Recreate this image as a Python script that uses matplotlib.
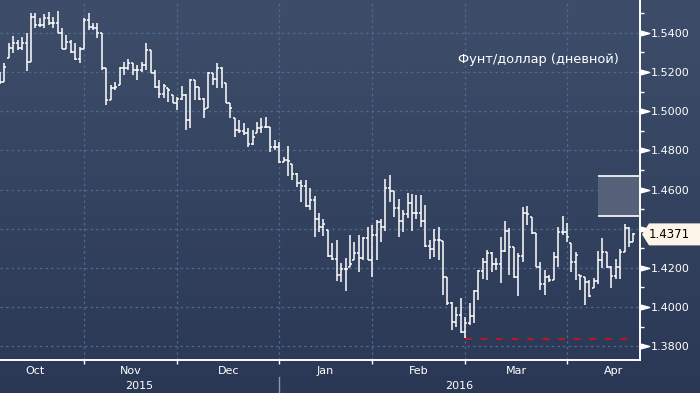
import numpy as np
import pandas as pd
import matplotlib
matplotlib.use("Agg")
import matplotlib.pyplot as plt
from matplotlib.collections import LineCollection
from matplotlib.patches import Polygon, Rectangle
from matplotlib.path import Path
import matplotlib.transforms as mtransforms

# ---------------- data ----------------
first_date = "2015-10-06"
title = "Фунт/доллар (дневной)"
month_names = ["Oct", "Nov", "Dec", "Jan", "Feb", "Mar", "Apr"]
year_names = ["2015", "2016"]

open_ = [1.5170,1.5149,1.5271,1.5322,1.5348,1.5322,1.5348,1.5251,1.5480,1.5439,
1.5439,1.5475,1.5450,1.5450,1.5399,1.5317,1.5353,1.5302,1.5266,1.5317,
1.5465,1.5429,1.5424,1.5399,1.5220,1.5057,1.5118,1.5134,1.5220,1.5220,
1.5246,1.5210,1.5210,1.5236,1.5312,1.5195,1.5123,1.5088,1.5118,1.5082,
1.5042,1.5062,1.5082,1.4955,1.5159,1.5123,1.5062,1.5016,1.5195,1.5164,
1.5220,1.5144,1.5042,1.4965,1.4904,1.4899,1.4889,1.4833,1.4889,1.4914,
1.4919,1.4919,1.4817,1.4817,1.4741,1.4751,1.4731,1.4680,1.4634,1.4618,
1.4516,1.4547,1.4450,1.4409,1.4394,1.4261,1.4246,1.4165,1.4195,1.4205,
1.4241,1.4277,1.4251,1.4353,1.4241,1.4369,1.4435,1.4409,1.4608,1.4593,
1.4506,1.4440,1.4476,1.4532,1.4481,1.4481,1.4440,1.4312,1.4297,1.4343,
1.4338,1.4154,1.4022,1.3925,1.3961,1.3874,1.3920,1.3956,1.4083,1.4185,
1.4231,1.4277,1.4221,1.4221,1.4287,1.4389,1.4307,1.4154,1.4261,1.4481,
1.4460,1.4379,1.4205,1.4119,1.4154,1.4139,1.4256,1.4384,1.4384,1.4328,
1.4231,1.4164,1.4154,1.4129,1.4098,1.4134,1.4241,1.4282,1.4205,1.4159,
1.4205,1.4282,1.4404,1.4333]

high = [1.5200,1.5246,1.5348,1.5383,1.5363,1.5378,1.5399,1.5501,1.5501,1.5475,
1.5496,1.5506,1.5480,1.5511,1.5424,1.5388,1.5363,1.5348,1.5327,1.5475,
1.5501,1.5450,1.5450,1.5399,1.5220,1.5134,1.5149,1.5225,1.5251,1.5266,
1.5246,1.5236,1.5251,1.5348,1.5312,1.5210,1.5159,1.5139,1.5118,1.5082,
1.5072,1.5128,1.5088,1.5164,1.5159,1.5123,1.5067,1.5200,1.5195,1.5246,
1.5225,1.5144,1.5042,1.4965,1.4955,1.4940,1.4914,1.4904,1.4945,1.4965,
1.4970,1.4919,1.4853,1.4843,1.4766,1.4822,1.4731,1.4685,1.4649,1.4649,
1.4608,1.4567,1.4481,1.4450,1.4394,1.4328,1.4343,1.4226,1.4251,1.4369,
1.4333,1.4369,1.4358,1.4409,1.4420,1.4445,1.4450,1.4654,1.4675,1.4593,
1.4552,1.4496,1.4583,1.4578,1.4572,1.4572,1.4521,1.4343,1.4399,1.4409,
1.4338,1.4154,1.4027,1.4001,1.4047,1.3950,1.4022,1.4088,1.4190,1.4251,
1.4292,1.4282,1.4251,1.4358,1.4440,1.4404,1.4307,1.4277,1.4511,1.4516,
1.4460,1.4379,1.4231,1.4190,1.4164,1.4282,1.4409,1.4465,1.4430,1.4328,
1.4282,1.4164,1.4154,1.4139,1.4149,1.4287,1.4353,1.4282,1.4211,1.4246,
1.4297,1.4425,1.4409,1.4379]

low = [1.5139,1.5149,1.5271,1.5297,1.5312,1.5312,1.5205,1.5251,1.5424,1.5429,
1.5424,1.5439,1.5424,1.5399,1.5317,1.5317,1.5297,1.5261,1.5246,1.5317,
1.5414,1.5414,1.5373,1.5210,1.5031,1.5057,1.5108,1.5134,1.5185,1.5210,
1.5185,1.5159,1.5200,1.5210,1.5195,1.5118,1.5067,1.5067,1.5047,1.5042,
1.5006,1.5057,1.4904,1.4914,1.5057,1.5057,1.4965,1.5016,1.5134,1.5118,
1.5118,1.5042,1.4965,1.4868,1.4889,1.4879,1.4817,1.4827,1.4889,1.4889,
1.4914,1.4792,1.4802,1.4736,1.4741,1.4669,1.4649,1.4613,1.4537,1.4511,
1.4496,1.4358,1.4384,1.4363,1.4256,1.4241,1.4134,1.4129,1.4083,1.4205,
1.4241,1.4180,1.4241,1.4241,1.4154,1.4241,1.4333,1.4389,1.4537,1.4460,
1.4358,1.4384,1.4455,1.4389,1.4450,1.4409,1.4307,1.4246,1.4256,1.4241,
1.4063,1.4012,1.3884,1.3899,1.3869,1.3843,1.3910,1.3920,1.4037,1.4144,
1.4139,1.4180,1.4190,1.4124,1.4282,1.4164,1.4149,1.4057,1.4231,1.4420,
1.4374,1.4205,1.4088,1.4063,1.4129,1.4139,1.4205,1.4369,1.4333,1.4180,
1.4139,1.4088,1.4012,1.4052,1.4098,1.4119,1.4200,1.4200,1.4098,1.4144,
1.4144,1.4282,1.4307,1.4333]

close = [1.5149,1.5225,1.5322,1.5348,1.5322,1.5348,1.5251,1.5480,1.5439,1.5439,
1.5475,1.5450,1.5450,1.5399,1.5317,1.5353,1.5302,1.5266,1.5317,1.5465,
1.5429,1.5424,1.5399,1.5220,1.5057,1.5118,1.5123,1.5220,1.5220,1.5246,
1.5210,1.5210,1.5236,1.5312,1.5195,1.5123,1.5088,1.5128,1.5108,1.5042,
1.5062,1.5082,1.4955,1.5159,1.5123,1.5062,1.5011,1.5195,1.5164,1.5220,
1.5144,1.5042,1.5016,1.4904,1.4899,1.4889,1.4833,1.4868,1.4914,1.4919,
1.4919,1.4817,1.4817,1.4741,1.4751,1.4746,1.4680,1.4634,1.4618,1.4516,
1.4547,1.4450,1.4409,1.4425,1.4261,1.4246,1.4165,1.4195,1.4195,1.4221,
1.4277,1.4251,1.4353,1.4241,1.4369,1.4435,1.4409,1.4608,1.4593,1.4506,
1.4440,1.4476,1.4532,1.4481,1.4481,1.4440,1.4312,1.4297,1.4343,1.4343,
1.4154,1.4022,1.3925,1.3961,1.3874,1.3920,1.3956,1.4083,1.4185,1.4231,
1.4277,1.4221,1.4221,1.4287,1.4389,1.4307,1.4154,1.4261,1.4481,1.4476,
1.4379,1.4205,1.4119,1.4154,1.4139,1.4256,1.4384,1.4384,1.4358,1.4231,
1.4267,1.4159,1.4129,1.4057,1.4134,1.4241,1.4282,1.4205,1.4159,1.4205,
1.4282,1.4404,1.4333,1.4371]

ytick_vals = [1.38, 1.40, 1.42, 1.44, 1.46, 1.48, 1.50, 1.52, 1.54]
yminor_vals = [1.39, 1.41, 1.43, 1.45, 1.47, 1.49, 1.51, 1.53, 1.55]
y_limits = (1.3730, 1.5567)
last_price = 1.4371
support_level = 1.3838
support_from = "2016-03-01"
band_low, band_high = 1.4465, 1.4669
band_from = "2016-04-12"

# ---------------- styling ----------------
W, H, DPI = 700, 393, 100
AX_W, AX_H = 640, 360
bg_top = np.array([62, 78, 106]) / 255
bg_bot = np.array([42, 56, 85]) / 255
grid_col = "#4b6d8d"
white = "#ffffff"

fig = plt.figure(figsize=(W / DPI, H / DPI), dpi=DPI)

bg = fig.add_axes([0, 0, 1, 1], zorder=0)
t = np.linspace(0, 1, 400)[:, None, None]
img = bg_top[None, None, :] * (1 - t) + bg_bot[None, None, :] * t
bg.imshow(img, aspect="auto", extent=(0, 1, 0, 1), interpolation="bilinear")
bg.set_axis_off()

ax = fig.add_axes([0, (H - AX_H) / H, AX_W / W, AX_H / H], zorder=1)
ax.patch.set_alpha(0)

n = len(close)
dates = pd.bdate_range(first_date, periods=n)
pos = np.arange(n)
all_days = pd.bdate_range("2015-10-01", "2016-05-31")
offset = all_days.get_loc(pd.Timestamp(first_date))
month_first = all_days.to_series().groupby([all_days.year, all_days.month]).head(1)
mstarts = np.array([all_days.get_loc(d) - offset for d in month_first.index])
x_max = AX_W / 4.43

# OHLC bars
half = 0.45
segs = []
for i in range(n):
    segs.append([(pos[i], low[i]), (pos[i], high[i])])
    segs.append([(pos[i] - half, open_[i]), (pos[i], open_[i])])
    segs.append([(pos[i], close[i]), (pos[i] + half, close[i])])
ax.add_collection(LineCollection(segs, colors=white, linewidths=1.1,
                                 capstyle="butt", zorder=4))

ax.set_xlim(0, x_max)
ax.set_ylim(*y_limits)

# support line
sp = dates.get_loc(pd.Timestamp(support_from))
ax.plot([pos[sp], pos[-1]], [support_level, support_level], color="#b3192c",
        lw=1.6, dashes=(3, 4), zorder=3)

# grey band
bp = dates.get_loc(pd.Timestamp(band_from))
ax.add_patch(Rectangle((pos[bp], band_low), x_max - pos[bp], band_high - band_low,
                       facecolor="#566279", edgecolor="none", zorder=2))
ax.hlines([band_low, band_high], pos[bp], x_max, color=white, lw=1.2, zorder=3)

# axes / grid
for s in ["top", "left"]:
    ax.spines[s].set_visible(False)
for s in ["right", "bottom"]:
    ax.spines[s].set_color(white)
    ax.spines[s].set_linewidth(1.4)

vis_starts = [m for m in mstarts if 0 < m < x_max]
ax.set_xticks(vis_starts)
ax.set_xticklabels([])
mids = [(mstarts[k] + mstarts[k + 1]) / 2 for k in range(len(month_names))]
ax.set_xticks(mids, minor=True)
ax.set_xticklabels(month_names, minor=True)
ax.tick_params(axis="x", which="major", length=3, width=1, color=white)
ax.tick_params(axis="x", which="minor", length=0, pad=4, labelsize=8,
               labelcolor=white)

ax.yaxis.tick_right()
ax.set_yticks(ytick_vals)
ax.set_yticklabels([f"{v:.4f}" for v in ytick_vals])
ax.set_yticks(yminor_vals, minor=True)
ax.tick_params(axis="y", which="major", length=0, pad=7.5, labelsize=8,
               labelcolor=white)
ax.tick_params(axis="y", which="minor", length=3, width=1, color=white)

ax.grid(True, which="major", color=grid_col, lw=0.9, linestyle=(0, (2, 2.5)))
ax.set_axisbelow(True)

# triangles at major y ticks
trans_y = mtransforms.blended_transform_factory(ax.transAxes, ax.transData)
tri = Path([(-1, -0.55), (1, 0), (-1, 0.55), (-1, -0.55)],
           [Path.MOVETO, Path.LINETO, Path.LINETO, Path.CLOSEPOLY])
ax.plot([1 + 5 / AX_W] * len(ytick_vals), ytick_vals, transform=trans_y,
        marker=tri, ms=6, color=white, ls="none", clip_on=False, zorder=5)

# title
ax.text(619 / AX_W, 1 - 60 / AX_H, title, transform=ax.transAxes, ha="right",
        va="center", color=white, fontsize=9.4)

# years
trans_x = mtransforms.blended_transform_factory(ax.transData, ax.transAxes)
year_split = mstarts[3]
ax.text((0 + year_split) / 2, -26 / AX_H, year_names[0], transform=trans_x,
        ha="center", va="center", color=white, fontsize=8)
ax.text((year_split + x_max) / 2, -26 / AX_H, year_names[1], transform=trans_x,
        ha="center", va="center", color=white, fontsize=8)
ax.plot([year_split, year_split], [-17 / AX_H, -34 / AX_H], transform=trans_x,
        color="#8d97a8", lw=1, clip_on=False)

# last price label
dy = 11 * (y_limits[1] - y_limits[0]) / AX_H
px = 1 / AX_W
poly = [(1 + 2 * px, last_price), (1 + 9 * px, last_price + dy),
        (1 + 62 * px, last_price + dy), (1 + 62 * px, last_price - dy),
        (1 + 9 * px, last_price - dy)]
ax.add_patch(Polygon(poly, closed=True, transform=trans_y, facecolor="#fdf6e8",
                     edgecolor="none", clip_on=False, zorder=10))
ax.text(1 + 29 * px, last_price, f"{last_price:.4f}", transform=trans_y,
        ha="center", va="center", color="black", fontsize=8.5, zorder=11)

fig.savefig("out.png", dpi=DPI)
